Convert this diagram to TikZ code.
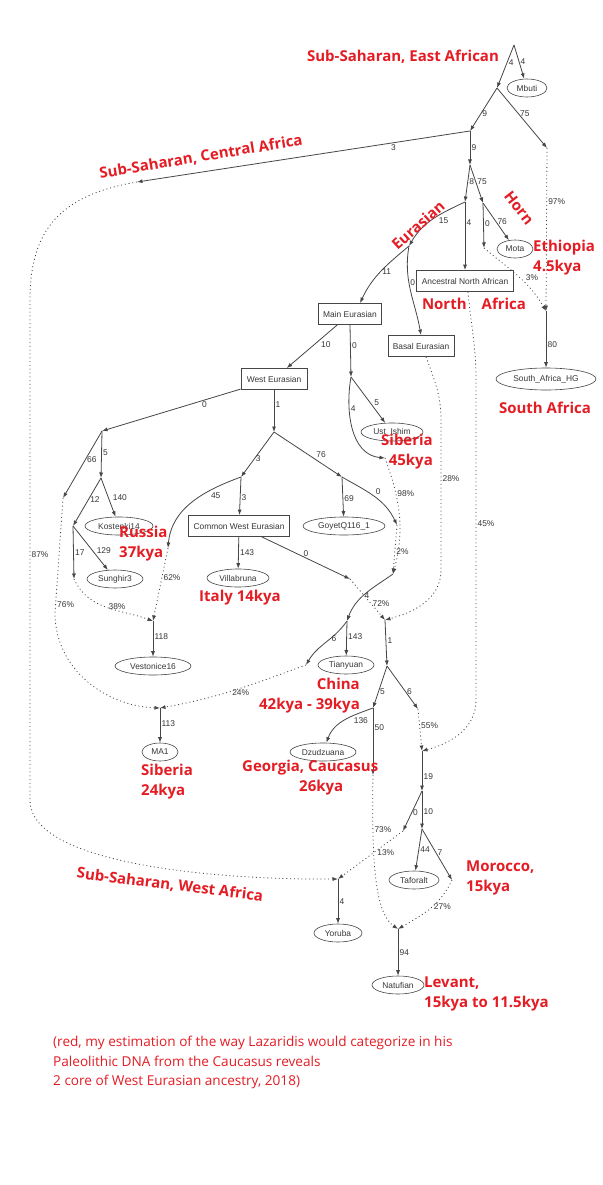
\documentclass[tikz,border=0pt]{standalone}
\usepackage{fontspec}
\setmainfont{Liberation Sans}
\newfontfamily\annfont{Open Sans}
\usetikzlibrary{positioning,arrows.meta,calc,shapes.geometric}
\definecolor{ann}{RGB}{228,28,36}
\definecolor{edgegray}{RGB}{70,70,70}
\definecolor{txtgray}{RGB}{55,55,55}

\begin{document}
\begin{tikzpicture}[x=1pt, y=1pt,
    every node/.style={font=\fontsize{8.4}{9.5}\selectfont, text=txtgray},
    pop/.style={ellipse, draw=edgegray, line width=0.6pt, inner sep=0pt, minimum height=18pt},
    grp/.style={rectangle, draw=edgegray, line width=0.8pt, inner sep=0pt, minimum height=21pt},
    wt/.style={-{Latex[length=5.5pt,width=4pt]}, draw=edgegray, line width=0.8pt},
    mix/.style={wt, dash pattern=on 1pt off 2.8pt},
    lbl/.style={inner sep=1.2pt},
    region/.style={font=\annfont\bfseries\fontsize{15}{20}\selectfont, text=ann, align=left, inner sep=0pt}
]
\path[use as bounding box, fill=white] (0,0) rectangle (602,-1185);

% junctions
\coordinate (R)   at (514,-45);
\coordinate (J1)  at (497,-88);
\coordinate (J2)  at (470,-131);
\coordinate (J3)  at (547,-148);
\coordinate (CA)  at (137,-182);
\coordinate (J4)  at (470,-165);
\coordinate (J5)  at (465,-202);
\coordinate (J6)  at (483,-203);
\coordinate (J7)  at (409,-246);
\coordinate (J8)  at (484,-248);
\coordinate (J9)  at (546,-311);
\coordinate (J10) at (351,-377);
\coordinate (J11) at (385,-458);
\coordinate (J12) at (393,-574);
\coordinate (J13) at (397,-525);
\coordinate (J14) at (347,-621);
\coordinate (J15) at (350,-579);
\coordinate (J16) at (306,-665);
\coordinate (J17) at (160,-708);
\coordinate (J18) at (387,-666);
\coordinate (J19) at (373,-708);
\coordinate (J20) at (418,-709);
\coordinate (J21) at (373,-775);
\coordinate (J22) at (422,-751);
\coordinate (J23) at (422,-791);
\coordinate (J24) at (403,-831);
\coordinate (J25) at (398,-929);
\coordinate (J26) at (422,-829);
\coordinate (J27) at (338,-879);
\coordinate (J28) at (452,-880);
\coordinate (J29) at (102,-431);
\coordinate (J30) at (274,-432);
\coordinate (J31) at (63,-498);
\coordinate (J32) at (101,-478);
\coordinate (J33) at (73,-526);
\coordinate (J34) at (74,-579);
\coordinate (J35) at (153,-621);
\coordinate (J36) at (241,-477);
\coordinate (J37) at (342,-477);
\coordinate (J38) at (168,-548);
\coordinate (J39) at (385,-620);

% groups and samples
\node[pop, minimum width=40pt]  (Mbuti)      at (527,-88)  {Mbuti};
\node[pop, minimum width=36pt]  (Mota)       at (515,-249) {Mota};
\node[grp, minimum width=97pt]  (ANA)        at (465,-281) {Ancestral North African};
\node[grp, minimum width=63pt]  (MainEur)    at (350,-314) {Main Eurasian};
\node[grp, minimum width=66pt]  (BasalEur)   at (421,-346) {Basal Eurasian};
\node[pop, minimum width=100pt, minimum height=22pt] (SAHG) at (546,-379) {South\_Africa\_HG};
\node[grp, minimum width=66pt]  (WestEur)    at (274,-379) {West Eurasian};
\node[pop, minimum width=62pt]  (UstIshim)   at (392,-432) {Ust\_Ishim};
\node[pop, minimum width=68pt]  (Kostenki)   at (119,-526) {Kostenki14};
\node[grp, minimum width=101pt] (CWE)        at (239,-526) {Common West Eurasian};
\node[pop, minimum width=82pt]  (Goyet)      at (344,-526) {GoyetQ116\_1};
\node[pop, minimum width=56pt]  (Sunghir)    at (115,-579) {Sunghir3};
\node[pop, minimum width=62pt]  (Villabruna) at (238,-578) {Villabruna};
\node[pop, minimum width=76pt]  (Vestonice)  at (153,-666) {Vestonice16};
\node[pop, minimum width=56pt]  (Tianyuan)   at (346,-665) {Tianyuan};
\node[pop, minimum width=36pt]  (MAone)      at (160,-752) {MA1};
\node[pop, minimum width=66pt]  (Dzudzuana)  at (323,-752) {Dzudzuana};
\node[pop, minimum width=50pt]  (Taforalt)   at (414,-880) {Taforalt};
\node[pop, minimum width=48pt]  (Yoruba)     at (338,-933) {Yoruba};
\node[pop, minimum width=52pt]  (Natufian)   at (398,-985) {Natufian};

% drift edges
\draw[wt] (R) -- node[lbl,pos=.4,right]{4} (J1);
\draw[wt] (R) -- node[lbl,pos=.5,right]{4} (Mbuti);
\draw[wt] (J1) -- node[lbl,pos=.6,right]{9} (J2);
\draw[wt] (J1) -- node[lbl,pos=.43,right]{75} (J3);
\draw[wt] (J2) -- node[lbl,pos=.23,below]{3} (CA);
\draw[wt] (J2) -- node[lbl,pos=.5,right]{9} (J4);
\draw[wt] (J4) -- node[lbl,pos=.45,right]{8} (J5);
\draw[wt] (J4) -- node[lbl,pos=.45,right]{75} (J6);
\draw[wt] (J5) to[out=205,in=60] node[lbl,pos=.42,below right]{15} (J7);
\draw[wt] (J5) -- node[lbl,pos=.3,right]{4} (ANA);
\draw[wt] (J6) -- node[lbl,pos=.45,right]{0} (J8);
\draw[wt] (J6) -- node[lbl,pos=.5,right]{76} (Mota);
\draw[wt] (J7) to[out=220,in=65] node[lbl,pos=.5,right]{11} ([xshift=10pt]MainEur.north);
\draw[wt] (J7) to[out=-100,in=100] node[lbl,pos=.4,right]{0} (BasalEur.north);
\draw[wt] (J9) -- node[lbl,pos=.6,right]{80} (SAHG);
\draw[wt] (MainEur) -- node[lbl,pos=.45,right=5pt]{10} (WestEur);
\draw[wt] (MainEur.south) -- node[lbl,pos=.4,right]{0} (J10);
\draw[wt] (J10) -- node[lbl,pos=.55,right=3pt]{5} (UstIshim);
\draw[wt] (J10) to[out=-100,in=175] node[lbl,pos=.3,right]{4} (J11);
\draw[wt] (WestEur) -- node[lbl,pos=.26,below]{0} (J29);
\draw[wt] (WestEur) -- node[lbl,pos=.35,right]{1} (J30);
\draw[wt] (J29) -- node[lbl,pos=.42,right]{66} (J31);
\draw[wt] (J29) -- node[lbl,pos=.45,right]{5} (J32);
\draw[wt] (J32) -- node[lbl,pos=.44,right]{12} (J33);
\draw[wt] (J32) -- node[lbl,pos=.5,right=3pt]{140} (Kostenki);
\draw[wt] (J33) -- node[lbl,pos=.5,right]{17} (J34);
\draw[wt] (J33) -- node[lbl,pos=.55,right=3pt]{129} (Sunghir);
\draw[wt] (J30) -- node[lbl,pos=.6,right]{3} (J36);
\draw[wt] (J30) -- node[lbl,pos=.6,above right]{76} (J37);
\draw[wt] (J36) -- node[lbl,pos=.55,right]{3} (CWE);
\draw[wt] (J36) to[out=200,in=85] node[lbl,pos=.3,below right]{45} (J38);
\draw[wt] (J37) -- node[lbl,pos=.55,right]{69} (Goyet);
\draw[wt] (J37) to[out=-30,in=115] node[lbl,pos=.5,above right]{0} (J13);
\draw[wt] (CWE) -- node[lbl,pos=.5,right]{143} (Villabruna);
\draw[wt] (CWE) -- node[lbl,pos=.5,above]{0} (J15);
\draw[wt] (J35) -- node[lbl,pos=.45,right]{118} (Vestonice);
\draw[wt] (J12) to[out=215,in=70] node[lbl,pos=.55,right]{4} (J14);
\draw[wt] (J14) -- node[lbl,pos=.45,right]{143} (Tianyuan);
\draw[wt] (J14) to[out=235,in=60] node[lbl,pos=.4,right]{6} (J16);
\draw[wt] (J17) -- node[lbl,pos=.45,right]{113} (MAone);
\draw[wt] (J39) -- node[lbl,pos=.45,right]{1} (J18);
\draw[wt] (J18) -- node[lbl,pos=.6,right]{5} (J19);
\draw[wt] (J18) -- node[lbl,pos=.6,right]{6} (J20);
\draw[wt] (J19) to[out=200,in=70] node[lbl,pos=.35,below right]{136} (Dzudzuana);
\draw[wt] (J19) -- node[lbl,pos=.3,right]{50} (J21);
\draw[wt] (J22) -- node[lbl,pos=.65,right]{19} (J23);
\draw[wt] (J23) -- node[lbl,pos=.55,right]{0} (J24);
\draw[wt] (J23) -- node[lbl,pos=.55,right]{10} (J26);
\draw[wt] (J26) -- node[lbl,pos=.5,right]{44} (Taforalt);
\draw[wt] (J26) -- node[lbl,pos=.47,right]{7} (J28);
\draw[wt] (J25) -- node[lbl,pos=.5,right]{94} (Natufian);
\draw[wt] (J27) -- node[lbl,pos=.5,right]{4} (Yoruba);

% admixture edges
\draw[mix] (J3) -- node[lbl,pos=.33,right]{97\%} (J9);
\draw[mix] (J8) to[out=-40,in=120] node[lbl,pos=.6,above right]{3\%} (J9);
\draw[mix] (CA) .. controls (60,-195) and (30,-230) .. (30,-300)
  -- node[lbl,pos=.51,right]{87\%} (30,-800)
  .. controls (30,-865) and (220,-880) .. (J27);
\draw[mix] ([xshift=3pt]ANA.south) to[out=-85,in=90] (476,-380)
  -- node[lbl,pos=.45,right]{45\%} (476,-700) to[out=-90,in=15] (J22);
\draw[mix] ([xshift=5pt]BasalEur.south) to[out=-70,in=90] (441,-420)
  -- node[lbl,pos=.39,right]{28\%} (441,-570) to[out=-90,in=15] (J39);
\draw[mix] (J11) to[out=-70,in=75] node[lbl,pos=.3,right]{98\%} (J12);
\draw[mix] (J13) -- node[lbl,pos=.55,right]{2\%} (J12);
\draw[mix] (J15) -- node[lbl,pos=.6,right]{72\%} (J39);
\draw[mix] (J34) to[out=-65,in=160] node[lbl,pos=.62,above]{38\%} (J35);
\draw[mix] (J38) -- node[lbl,pos=.4,right]{62\%} (J35);
\draw[mix] (J31) -- node[lbl,pos=.93,right]{76\%} (55,-613) to[out=-90,in=178] (J17);
\draw[mix] (J16) to[out=200,in=10] node[lbl,pos=.45,below]{24\%} (J17);
\draw[mix] (J20) -- node[lbl,pos=.4,right]{55\%} (J22);
\draw[mix] (J21) .. controls (371,-880) and (378,-915) .. (J25) node[lbl,pos=.2,right]{73\%};
\draw[mix] (J24) -- node[lbl,pos=.45,right=2pt]{13\%} (J27);
\draw[mix] (J28) to[out=-115,in=30] node[lbl,pos=.45,right]{27\%} (J25);

% red annotations
\node[region] (rEast) at (403,-57) {Sub-Saharan, East African};
\node[region, rotate=9.5] (rCentral) at (201,-157) {Sub-Saharan, Central Africa};
\node[region, rotate=42] (rEurasian) at (418,-225) {Eurasian};
\node[region, rotate=-52] (rHorn) at (519,-208) {Horn};
\node[region, anchor=west] (rEthiopia) at (533,-258) {Ethiopia\\4.5kya};
\node[region] (rNorth) at (474,-304) {North\hspace{15pt}Africa};
\node[region] (rSouth) at (545,-408) {South Africa};
\node[region, align=right, anchor=east] (rSibA) at (433,-452) {Siberia\\45kya};
\node[region, anchor=west] (rRussia) at (119,-544) {Russia\\37kya};
\node[region] (rItaly) at (240,-598) {Italy 14kya};
\node[region, align=right, anchor=east] (rChina) at (360,-696) {China\\42kya - 39kya};
\node[region, anchor=west] (rSibB) at (141,-782) {Siberia\\24kya};
\node[region, anchor=west] (rGeorgia) at (242,-778) {Georgia, Caucasus\\\hspace*{57pt}26kya};
\node[region, anchor=west] (rMorocco) at (466,-878) {Morocco,\\15kya};
\node[region, anchor=west] (rLevant) at (424,-994) {Levant,\\15kya to 11.5kya};
\node[region, rotate=-7.2] (rWest) at (170,-885) {Sub-Saharan, West Africa};

\node[anchor=north west, inner sep=0pt, align=left, text=ann,
      font=\annfont\fontsize{13.6}{19.5}\selectfont] (note) at (53,-1036)
  {(red, my estimation of the way Lazaridis would categorize in his\\
   Paleolithic DNA from the Caucasus reveals\\
   2 core of West Eurasian ancestry, 2018)};

\end{tikzpicture}
\end{document}
